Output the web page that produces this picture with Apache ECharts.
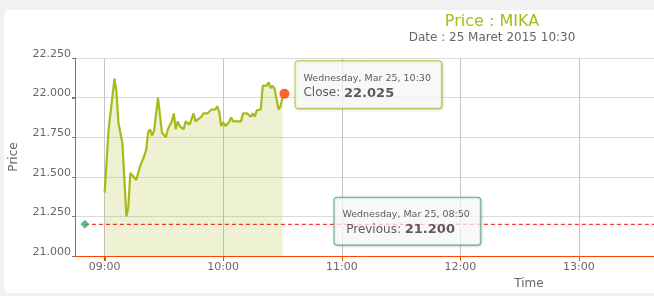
<!DOCTYPE html>
<html><head><meta charset="utf-8">
<script src="https://cdn.jsdelivr.net/npm/echarts@6/dist/echarts.min.js"></script>
<style>
html,body{margin:0;padding:0;background:#f1f1f1;overflow:hidden;}
#card{position:absolute;left:4px;top:10px;width:650px;height:283px;border-radius:5px 0 0 5px;background:#fff;}
#c{position:absolute;left:0;top:0;width:654px;height:296px;}
</style>
</head><body><div id="card"></div><div id="c"></div>
<script>
// ---- data ----
const times = ['09:00','09:02','09:03','09:05','09:06','09:07','09:09','09:11','09:12','09:13','09:14','09:16','09:18','09:20','09:21','09:22','09:23','09:24','09:25','09:27','09:29','09:30','09:31','09:32','09:34','09:35','09:36','09:37','09:38','09:40','09:41','09:42','09:43','09:45','09:46','09:47','09:49','09:50','09:52','09:54','09:56','09:57','09:58','09:59','10:00','10:01','10:03','10:04','10:05','10:09','10:10','10:12','10:13','10:14','10:15','10:16','10:17','10:18','10:19','10:20','10:22','10:23','10:24','10:25','10:26','10:28','10:29','10:30'];
const prices = [21.40,21.80,21.80,22.12,22.03,21.84,21.71,21.25,21.31,21.525,21.525,21.48,21.57,21.63,21.67,21.78,21.80,21.76,21.79,22.00,21.78,21.78,21.75,21.80,21.85,21.90,21.80,21.85,21.82,21.80,21.85,21.845,21.83,21.90,21.85,21.86,21.88,21.90,21.90,21.925,21.925,21.945,21.91,21.82,21.845,21.82,21.845,21.875,21.85,21.85,21.90,21.90,21.90,21.88,21.90,21.88,21.92,21.91,21.925,22.075,22.075,22.096,22.06,22.075,22.055,21.925,21.945,22.00];
const hourTicks = ['09:00','10:00','11:00','12:00','13:00'];
const yTicks = [21.0, 21.25, 21.5, 21.75, 22.0, 22.25];
const axisStart = '08:45', axisEnd = '13:38';
const closeTime = '10:31', closeLabelTime = '10:30', closeValue = 22.025;
const prevTime = '08:50', prevValue = 21.200;
const dayLabel = 'Wednesday, Mar 25';
const yMin = 21.0, yMax = 22.25, yStep = 0.25;

function toMin(s){const p=s.split(':').map(Number);return p[0]*60+p[1];}
function fmt(v){const h=Math.floor(v/60), m=v-h*60;return String(h).padStart(2,'0')+':'+String(m).padStart(2,'0');}
// one axis slot per minute of the visible session window
const slots = [];
for (let m = toMin(axisStart); m <= toMin(axisEnd); m++) slots.push(fmt(m));
const idx = t => slots.indexOf(t);
const isHour = (i, v) => hourTicks.indexOf(v) >= 0;

const FONT = 'DejaVu Sans';
const GREEN = '#a8ba1a';
const AXIS = '#ff4500';
const px = v => Math.round(v) + 0.5;

// axis line + ticks drawn through the axes' own scales
function renderAxisDecor(params, api){
  const kind = api.value(0);
  if (kind === 0) { // y axis line
    const a = api.coord([0, yMin]), b = api.coord([0, yMax]);
    return {type:'line', shape:{x1:px(a[0]),y1:a[1],x2:px(b[0]),y2:b[1]}, style:{stroke:AXIS,lineWidth:1}};
  }
  if (kind === 1) { // x tick at hour
    const p = api.coord([api.value(1), yMin]);
    return {type:'line', shape:{x1:px(p[0]),y1:p[1],x2:px(p[0]),y2:p[1]+5}, style:{stroke:AXIS,lineWidth:1}};
  }
  const q = api.coord([0, api.value(2)]); // y tick
  return {type:'line', shape:{x1:q[0]-3,y1:px(q[1]),x2:q[0],y2:px(q[1])}, style:{stroke:'#777',lineWidth:1}};
}
const decorData = [[0,0,yMin]]
  .concat(hourTicks.map(t=>[1, idx(t), yMin]))
  .concat(yTicks.map(v=>[2, 0, v]));

const chart = echarts.init(document.getElementById('c'), null, {renderer:'canvas'});
chart.setOption({
  animation:false,
  backgroundColor:'transparent',
  textStyle:{fontFamily:FONT},
  title:[
    {text:'Price : MIKA', left:492, top:13, textAlign:'center', padding:0,
     textStyle:{fontFamily:FONT,fontSize:16,fontWeight:'normal',color:GREEN,lineHeight:18}},
    {text:'Date : 25 Maret 2015 10:30', left:492, top:31, textAlign:'center', padding:0,
     textStyle:{fontFamily:FONT,fontSize:12,fontWeight:'normal',color:'#666',lineHeight:14}}
  ],
  grid:{left:75, right:0, top:58, bottom:40},
  xAxis:{
    type:'category', data:slots, boundaryGap:false,
    name:'Time', nameLocation:'middle', nameGap:21,
    nameTextStyle:{color:'#666',fontSize:12,fontFamily:FONT,padding:[0,0,0,329]},
    axisLine:{show:true,onZero:false,lineStyle:{color:AXIS,width:1}},
    axisTick:{show:true,interval:isHour,length:5,lineStyle:{color:AXIS,width:1}},
    axisLabel:{interval:isHour,color:'#666',fontSize:11,fontFamily:FONT,margin:6},
    splitLine:{show:true,interval:isHour,lineStyle:{color:'#c4c4c4',width:1}}
  },
  yAxis:{
    type:'value', min:yMin, max:yMax, interval:yStep,
    name:'Price', nameLocation:'middle', nameGap:55,
    nameTextStyle:{color:'#666',fontSize:12,fontFamily:FONT},
    axisLine:{show:true,onZero:false,lineStyle:{color:AXIS,width:1}},
    axisTick:{show:true,length:3,lineStyle:{color:'#777',width:1}},
    axisLabel:{color:'#666',fontSize:11,fontFamily:FONT,margin:4,formatter:v=>v.toFixed(3),verticalAlign:'bottom',lineHeight:8},
    splitLine:{show:true,lineStyle:{color:'#dadada',width:1}}
  },
  series:[
    {type:'line', z:3, data:times.map((t,i)=>[idx(t),prices[i]]), showSymbol:false,
     lineStyle:{color:GREEN,width:2.2}, itemStyle:{color:GREEN},
     areaStyle:{color:'rgba(168,186,26,0.28)'}},
    {type:'line', z:4, data:[[idx(prevTime),prevValue],[idx(axisEnd),prevValue]], symbol:'none',
     lineStyle:{color:'#ff0000',width:1,type:[4,3]}},
    {type:'custom', z:5, silent:true, clip:false, renderItem:renderAxisDecor, data:decorData,
     encode:{x:1, y:2}},
    {type:'scatter', z:6, symbol:'diamond', symbolSize:9, itemStyle:{color:'#45a07a'},
     data:[[idx(prevTime),prevValue]],
     label:{show:true, position:'right', distance:245, offset:[0,-3],
       backgroundColor:'rgba(255,255,255,0.9)', borderColor:'#3e9c78', borderWidth:1, borderRadius:3,
       padding:[10,8,7,8], width:130,
       shadowColor:'rgba(0,0,0,0.15)', shadowBlur:3, shadowOffsetX:1, shadowOffsetY:1,
       formatter:'{a|'+dayLabel+', '+prevTime+'}\n{b| Previous: }{c|'+prevValue.toFixed(3)+'}',
       rich:{a:{fontFamily:FONT,fontSize:9.5,lineHeight:14,color:'#333'},
             b:{fontFamily:FONT,fontSize:12,lineHeight:16,color:'#333'},
             c:{fontFamily:FONT,fontSize:13,fontWeight:'bold',lineHeight:16,color:'#333'}}}},
    {type:'scatter', z:6, symbol:'circle', symbolSize:10, itemStyle:{color:'#ff3b00'},
     data:[[idx(closeTime),closeValue]],
     label:{show:true, position:'right', distance:6, offset:[0,-9],
       backgroundColor:'rgba(255,255,255,0.9)', borderColor:GREEN, borderWidth:1, borderRadius:3,
       padding:[10,8,7,8], width:130,
       shadowColor:'rgba(0,0,0,0.15)', shadowBlur:3, shadowOffsetX:1, shadowOffsetY:1,
       formatter:'{a|'+dayLabel+', '+closeLabelTime+'}\n{b|Close: }{c|'+closeValue.toFixed(3)+'}',
       rich:{a:{fontFamily:FONT,fontSize:9.5,lineHeight:14,color:'#333'},
             b:{fontFamily:FONT,fontSize:12,lineHeight:16,color:'#333'},
             c:{fontFamily:FONT,fontSize:13,fontWeight:'bold',lineHeight:16,color:'#333'}}}}
  ]
});
</script></body></html>
